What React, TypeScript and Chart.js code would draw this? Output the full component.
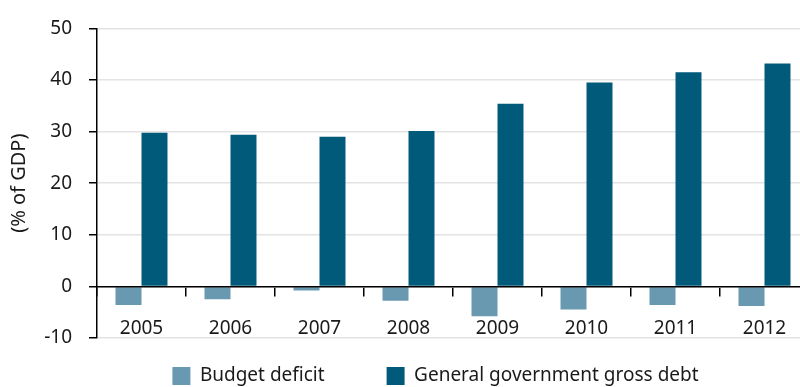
import React, { useEffect, useRef } from "react";
import { Chart, registerables } from "chart.js";

Chart.register(...registerables);

const categories: string[] = ["2005", "2006", "2007", "2008", "2009", "2010", "2011", "2012"];
const budgetDeficit: number[] = [-3.6, -2.5, -0.8, -2.8, -5.8, -4.5, -3.6, -3.8];
const grossDebt: number[] = [29.8, 29.4, 29.0, 30.1, 35.4, 39.5, 41.5, 43.2];
const seriesNames: string[] = ["Budget deficit", "General government gross debt"];
const yAxisTitle = "(% of GDP)";
const yMin = -10;
const yMax = 50;
const yStep = 10;

const FONT = "'Noto Sans', 'DejaVu Sans', sans-serif";
const TEXT = "#1a1a1a";
const LIGHT = "#6899b0";
const DARK = "#025a7b";

export default function App() {
  const ref = useRef<HTMLCanvasElement | null>(null);

  useEffect(() => {
    if (!ref.current) return;
    const chart = new Chart(ref.current, {
      type: "bar",
      data: {
        labels: categories,
        datasets: [
          {
            label: seriesNames[0],
            data: budgetDeficit,
            backgroundColor: LIGHT,
            borderWidth: 0,
            categoryPercentage: 0.584,
            barPercentage: 1,
          },
          {
            label: seriesNames[1],
            data: grossDebt,
            backgroundColor: DARK,
            borderWidth: 0,
            categoryPercentage: 0.584,
            barPercentage: 1,
          },
        ],
      },
      options: {
        responsive: false,
        animation: false,
        devicePixelRatio: 1,
        layout: { padding: { top: 16.5, bottom: 0, left: 0, right: 0 } },
        plugins: {
          tooltip: { enabled: false },
          legend: {
            display: true,
            position: "bottom",
            align: "center",
            maxHeight: 49,
            title: {
              display: true,
              text: "",
              font: { size: 10, lineHeight: 1 },
              padding: { top: 0, bottom: -43.5 },
            },
            labels: {
              boxWidth: 18,
              boxHeight: 18,
              padding: 62,
              color: TEXT,
              font: { family: FONT, size: 19 },
            },
          },
        },
        scales: {
          x: {
            type: "category",
            position: { y: 0 } as any,
            offset: true,
            grid: {
              display: true,
              drawOnChartArea: false,
              drawTicks: true,
              tickLength: 9,
              color: "#000",
              lineWidth: 1.5,
              offset: true,
            },
            border: { display: true, color: "#000", width: 1.5, z: 1 },
            ticks: {
              padding: 22,
              color: TEXT,
              font: { family: FONT, size: 19 },
              maxRotation: 0,
              autoSkip: false,
            },
          },
          y: {
            type: "linear",
            position: "left",
            min: yMin,
            max: yMax,
            ticks: {
              stepSize: yStep,
              padding: 17,
              color: TEXT,
              font: { family: FONT, size: 19 },
            },
            grid: {
              color: "#e3e3e3",
              lineWidth: 1.5,
              drawTicks: true,
              tickLength: 8,
              tickColor: "#000",
              tickWidth: 1.5,
            },
            border: { display: true, color: "#000", width: 1.5 },
            title: {
              display: true,
              text: yAxisTitle,
              color: TEXT,
              font: { family: FONT, size: 20 },
              padding: { top: 7, bottom: 0 },
            },
            afterFit: (s: any) => {
              s.width = 97;
            },
          },
          pad: {
            type: "linear",
            position: "right",
            display: true,
            grid: { display: false },
            border: { display: false },
            ticks: { display: false },
            afterFit: (s: any) => {
              s.width = 62;
            },
          },
        },
      } as any,
    });
    return () => chart.destroy();
  }, []);

  return (
    <div
      style={{
        position: "absolute",
        left: 0,
        top: 0,
        width: 800,
        height: 387,
        overflow: "hidden",
        background: "#fff",
      }}
    >
      <canvas ref={ref} width={871} height={387} style={{ width: 871, height: 387, display: "block" }} />
    </div>
  );
}
